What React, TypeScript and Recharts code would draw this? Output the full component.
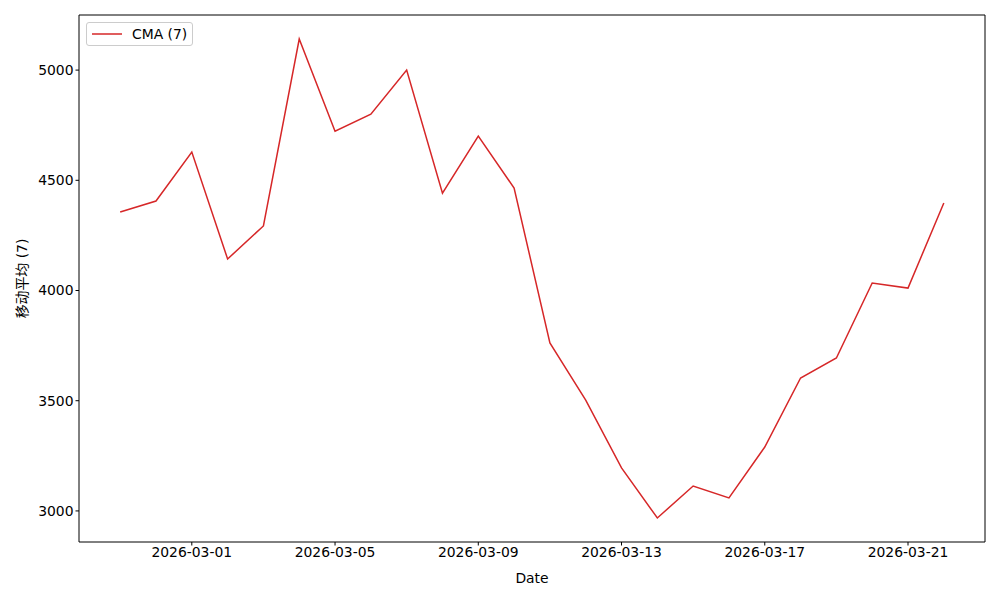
import { LineChart, Line, XAxis, YAxis, ReferenceLine } from "recharts";

const dates = [
  "2026-02-27", "2026-02-28", "2026-03-01", "2026-03-02", "2026-03-03", "2026-03-04",
  "2026-03-05", "2026-03-06", "2026-03-07", "2026-03-08", "2026-03-09", "2026-03-10",
  "2026-03-11", "2026-03-12", "2026-03-13", "2026-03-14", "2026-03-15", "2026-03-16",
  "2026-03-17", "2026-03-18", "2026-03-19", "2026-03-20", "2026-03-21", "2026-03-22",
];

const cma7 = [
  4356, 4406, 4628, 4143, 4293, 5141, 4723, 4800, 5000, 4442, 4701, 4465,
  3762, 3503, 3195, 2968, 3113, 3059, 3290, 3603, 3694, 4034, 4011, 4397,
];

const xTicks = [2, 6, 10, 14, 18, 22];
const yTicks = [3000, 3500, 4000, 4500, 5000];

const FONT = "'DejaVu Sans', sans-serif";
const RED = "#d62728";
const X_DOMAIN: [number, number] = [-1.15, 24.15];
const Y_DOMAIN: [number, number] = [2859, 5250];

const chartData = cma7.map((v, i) => ({ idx: i, date: dates[i], cma: v }));

function LegendBox() {
  return (
    <div
      style={{
        position: "absolute",
        left: 86,
        top: 22,
        display: "flex",
        alignItems: "center",
        border: "1px solid #cccccc",
        borderRadius: 3,
        background: "rgba(255,255,255,0.8)",
        padding: "3px 5px 3px 5px",
        fontFamily: FONT,
        fontSize: 13.9,
        color: "#000",
      }}
    >
      <svg width={30} height={10} style={{ marginRight: 10 }}>
        <line x1={0} y1={5} x2={30} y2={5} stroke={RED} strokeWidth={1.5} />
      </svg>
      <span>CMA (7)</span>
    </div>
  );
}

export default function App() {
  return (
    <div style={{ position: "absolute", left: 0, top: 0, width: 1000, height: 600, background: "#fff" }}>
      <LineChart
        width={1000}
        height={600}
        data={chartData}
        margin={{ top: 15, right: 15, bottom: 0, left: 0 }}
      >
        <XAxis
          dataKey="idx"
          type="number"
          domain={X_DOMAIN}
          ticks={xTicks}
          tickFormatter={(i: number) => dates[i]}
          height={58}
          stroke="#000"
          tickSize={3.5}
          tick={{ fill: "#000", fontSize: 13.9, fontFamily: FONT }}
          allowDataOverflow
          label={{ value: "Date", position: "insideBottom", offset: 17, fill: "#000", fontSize: 13.9, fontFamily: FONT }}
        />
        <YAxis
          type="number"
          domain={Y_DOMAIN}
          ticks={yTicks}
          width={79}
          stroke="#000"
          tickSize={3.5}
          tick={{ fill: "#000", fontSize: 13.9, fontFamily: FONT }}
          allowDataOverflow
          label={{
            value: "移动平均 (7)",
            angle: -90,
            position: "insideLeft",
            offset: 22,
            style: { textAnchor: "middle" },
            fill: "#000",
            fontSize: 13.9,
            fontFamily: "'DejaVu Sans', 'Noto Sans CJK SC', sans-serif",
          }}
        />
        <ReferenceLine y={Y_DOMAIN[1]} stroke="#000" strokeWidth={1} />
        <ReferenceLine x={X_DOMAIN[1]} stroke="#000" strokeWidth={1} />
        <Line
          type="linear"
          dataKey="cma"
          stroke={RED}
          strokeWidth={1.5}
          dot={false}
          isAnimationActive={false}
        />
      </LineChart>
      <LegendBox />
    </div>
  );
}
